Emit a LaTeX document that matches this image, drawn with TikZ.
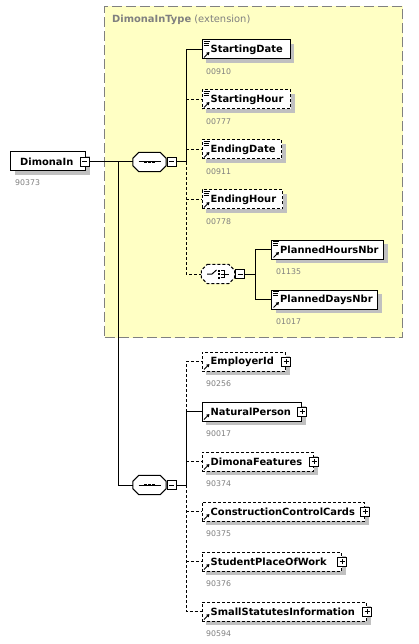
\documentclass[tikz,border=0pt]{standalone}
\usepackage{fontspec}
\setmainfont{DejaVu Sans}
\usetikzlibrary{shadows,arrows.meta}
\definecolor{yel}{HTML}{FFFFC4}
\definecolor{shd}{HTML}{C0C0C0}
\definecolor{idgray}{HTML}{808080}
\tikzset{
  conn/.style={line width=1pt, black},
  dashconn/.style={conn, dash pattern=on 3pt off 2pt},
  elbox/.style={draw, line width=1pt, fill=white, minimum height=19pt, inner sep=0pt, anchor=west,
    general shadow={fill=shd, shadow xshift=4pt, shadow yshift=-4pt}},
  optbox/.style={elbox, dash pattern=on 3pt off 2pt},
  ename/.style={anchor=west, inner sep=0pt, font=\fontsize{9.9}{11}\selectfont\bfseries},
  idlbl/.style={anchor=west, inner sep=0pt, text=idgray, font=\fontsize{7.8}{9}\selectfont},
  pmbox/.style={draw, line width=1pt, fill=white, minimum size=9pt, inner sep=0pt},
  minusbox/.style={pmbox, path picture={\draw[line width=1pt] ([xshift=2pt]path picture bounding box.west) -- ([xshift=-2pt]path picture bounding box.east);}},
  plusbox/.style={pmbox, path picture={\draw[line width=1pt] ([xshift=2pt]path picture bounding box.west) -- ([xshift=-2pt]path picture bounding box.east) ([yshift=2pt]path picture bounding box.south) -- ([yshift=-2pt]path picture bounding box.north);}},
  compframe/.style={minimum width=33pt, minimum height=19pt, inner sep=0pt},
  octline/.style={line width=1pt, fill=white},
  typebox/.style={draw=idgray, line width=1pt, dash pattern=on 10pt off 4pt, fill=yel, inner sep=0pt, anchor=north west},
}
\newcommand\xoctpath[1]{([xshift=6pt]#1.north west) -- ([xshift=-6pt]#1.north east) -- ([yshift=-6pt]#1.north east) -- ([yshift=6pt]#1.south east) -- ([xshift=-6pt]#1.south east) -- ([xshift=6pt]#1.south west) -- ([yshift=6pt]#1.south west) -- ([yshift=-6pt]#1.north west) -- cycle}
\newcommand\xoct[2]{\fill[shd, shift={(4pt,-4pt)}] \xoctpath{#2}; \draw[octline,#1] \xoctpath{#2};}
\newcommand\xdocicon[1]{\draw[line width=0.9pt] ([shift={(2pt,-2pt)}]#1.north west) -- +(6pt,0pt)
  ([shift={(2pt,-4pt)}]#1.north west) -- +(5pt,0pt) ([shift={(2pt,-6pt)}]#1.north west) -- +(5pt,0pt);}
\newcommand\xrefarrow[1]{\draw[line width=1pt,-{Triangle[length=3pt,width=3.5pt]}] ([shift={(2.5pt,2pt)}]#1.south west) -- ([shift={(8pt,7.5pt)}]#1.south west);}
\begin{document}
\begin{tikzpicture}[x=1pt,y=-1pt]
\useasboundingbox[fill=white] (0,0) rectangle (418,644);
% type box
\node[typebox, minimum width=298pt, minimum height=331pt] (tb) at (104,6) {};
\node[anchor=west, inner sep=0pt, text=idgray, font=\fontsize{9.9}{11}\selectfont] (tbt) at (112,20) {\textbf{DimonaInType} (extension)};
% root
\node[elbox, minimum width=75pt] (di) at (10,161.5) {};
\node[ename] (dit) at ([xshift=10pt]di.west) {DimonaIn};
\node[idlbl] (dii) at (15,183) {90373};
\node[minusbox] (dim) at (84.5,162) {};
% sequence 1
\node[compframe] (s1) at (149.5,162) {};
\xoct{}{s1}
\node[minusbox] (s1m) at (171.5,162) {};
\draw[conn] ([xshift=-11pt]s1.center) -- ([xshift=11pt]s1.center);
\foreach \dx in {-4,0,4} \fill ([xshift=\dx pt]s1.center) +(-1.3pt,-1.3pt) rectangle +(1.3pt,1.3pt);
% sequence 2
\node[compframe] (s2) at (149.5,485) {};
\xoct{}{s2}
\node[minusbox] (s2m) at (171.5,485) {};
\draw[conn] ([xshift=-11pt]s2.center) -- ([xshift=11pt]s2.center);
\foreach \dx in {-4,0,4} \fill ([xshift=\dx pt]s2.center) +(-1.3pt,-1.3pt) rectangle +(1.3pt,1.3pt);
% trunk
\coordinate (t1) at (118,162);
\coordinate (t2) at (118,485);
\draw[conn] (dim.east) -- (s1.west);
\draw[conn] (t1) -- (t2) -- (s2.west);
% upper children
\node[elbox, minimum width=88pt] (sd) at (201.5,49.5) {};
\node[ename] (sdt) at ([xshift=9pt]sd.west) {StartingDate};
\node[idlbl] (sdi) at (206,72) {00910};
\node[optbox, minimum width=88.5pt] (sh) at (201.5,99.5) {};
\node[ename] (sht) at ([xshift=9pt]sh.west) {StartingHour};
\node[idlbl] (shi) at (206,122) {00777};
\node[optbox, minimum width=79.5pt] (ed) at (201.5,149.5) {};
\node[ename] (edt) at ([xshift=9pt]ed.west) {EndingDate};
\node[idlbl] (edi) at (206,172) {00911};
\node[optbox, minimum width=80.5pt] (eh) at (201.5,199.5) {};
\node[ename] (eht) at ([xshift=9pt]eh.west) {EndingHour};
\node[idlbl] (ehi) at (206,222) {00778};
\foreach \n in {sd,sh,ed,eh} {\xdocicon{\n}\xrefarrow{\n}}
% choice
\node[compframe] (ch) at (218,274) {};
\xoct{dash pattern=on 3pt off 2pt}{ch}
\node[minusbox] (chm) at (240,274) {};
\draw[conn] ([xshift=-11pt]ch.center) -- ([xshift=-6pt]ch.center) -- ([shift={(-1.5pt,4pt)}]ch.center);
\foreach \dy in {-3.5,0,3.5} \fill ([shift={(1pt,\dy pt)}]ch.center) +(-1pt,-1pt) rectangle +(1pt,1pt);
\draw[conn] ([shift={(3pt,3.5pt)}]ch.center) -- ([shift={(6pt,3.5pt)}]ch.center) -- ([shift={(6pt,-3.5pt)}]ch.center) -- ([shift={(3pt,-3.5pt)}]ch.center)
  ([shift={(3pt,0pt)}]ch.center) -- ([shift={(11pt,0pt)}]ch.center);
\node[elbox, minimum width=112pt] (ph) at (271,249.5) {};
\node[ename] (pht) at ([xshift=9pt]ph.west) {PlannedHoursNbr};
\node[idlbl] (phi) at (276,272) {01135};
\node[elbox, minimum width=106pt] (pd) at (271,299.5) {};
\node[ename] (pdt) at ([xshift=9pt]pd.west) {PlannedDaysNbr};
\node[idlbl] (pdi) at (276,322) {01017};
\foreach \n in {ph,pd} {\xdocicon{\n}\xrefarrow{\n}}
% upper connectors
\coordinate (v1) at (186,162);
\draw[conn] (s1m.east) -- (v1);
\draw[conn] (v1) |- (sd.west);
\draw[dashconn] (sh.west -| v1) -- (sh.west);
\draw[dashconn] (ed.west -| v1) -- (ed.west);
\draw[dashconn] (eh.west -| v1) -- (eh.west);
\draw[dashconn] (v1) |- (ch.west);
\coordinate (v3) at (255,274);
\draw[conn] (chm.east) -- (v3);
\draw[conn] (v3) |- (ph.west);
\draw[conn] (v3) |- (pd.west);
% lower children
\node[optbox, minimum width=83.5pt] (em) at (201.5,361.5) {};
\node[ename] (emt) at ([xshift=9pt]em.west) {EmployerId};
\node[idlbl] (emi) at (206,384) {90256};
\node[plusbox] (emp) at (em.east) {};
\node[elbox, minimum width=99.5pt] (np) at (201.5,411.5) {};
\node[ename] (npt) at ([xshift=9pt]np.west) {NaturalPerson};
\node[idlbl] (npi) at (206,434) {90017};
\node[plusbox] (npp) at (np.east) {};
\node[optbox, minimum width=111.5pt] (df) at (201.5,461.5) {};
\node[ename] (dft) at ([xshift=9pt]df.west) {DimonaFeatures};
\node[idlbl] (dfi) at (206,484) {90374};
\node[plusbox] (dfp) at (df.east) {};
\node[optbox, minimum width=162.5pt] (cc) at (201.5,511.5) {};
\node[ename] (cct) at ([xshift=9pt]cc.west) {ConstructionControlCards};
\node[idlbl] (cci) at (206,534) {90375};
\node[plusbox] (ccp) at (cc.east) {};
\node[optbox, minimum width=139.5pt] (sp) at (201.5,561.5) {};
\node[ename] (spt) at ([xshift=9pt]sp.west) {StudentPlaceOfWork};
\node[idlbl] (spi) at (206,584) {90376};
\node[plusbox] (spp) at (sp.east) {};
\node[optbox, minimum width=164.5pt] (ss) at (201.5,611.5) {};
\node[ename] (sst) at ([xshift=9pt]ss.west) {SmallStatutesInformation};
\node[idlbl] (ssi) at (206,634) {90594};
\node[plusbox] (ssp) at (ss.east) {};
\foreach \n in {em,np,df,cc,sp,ss} {\xrefarrow{\n}}
% lower connectors
\coordinate (v2) at (186,485);
\draw[conn] (s2m.east) -- (v2);
\draw[conn] (v2) |- (np.west);
\draw[dashconn] (np.west -| v2) |- (em.west);
\draw[dashconn] (df.west -| v2) -- (df.west);
\draw[dashconn] (cc.west -| v2) -- (cc.west);
\draw[dashconn] (sp.west -| v2) -- (sp.west);
\draw[dashconn] (v2) |- (ss.west);
\end{tikzpicture}
\end{document}
